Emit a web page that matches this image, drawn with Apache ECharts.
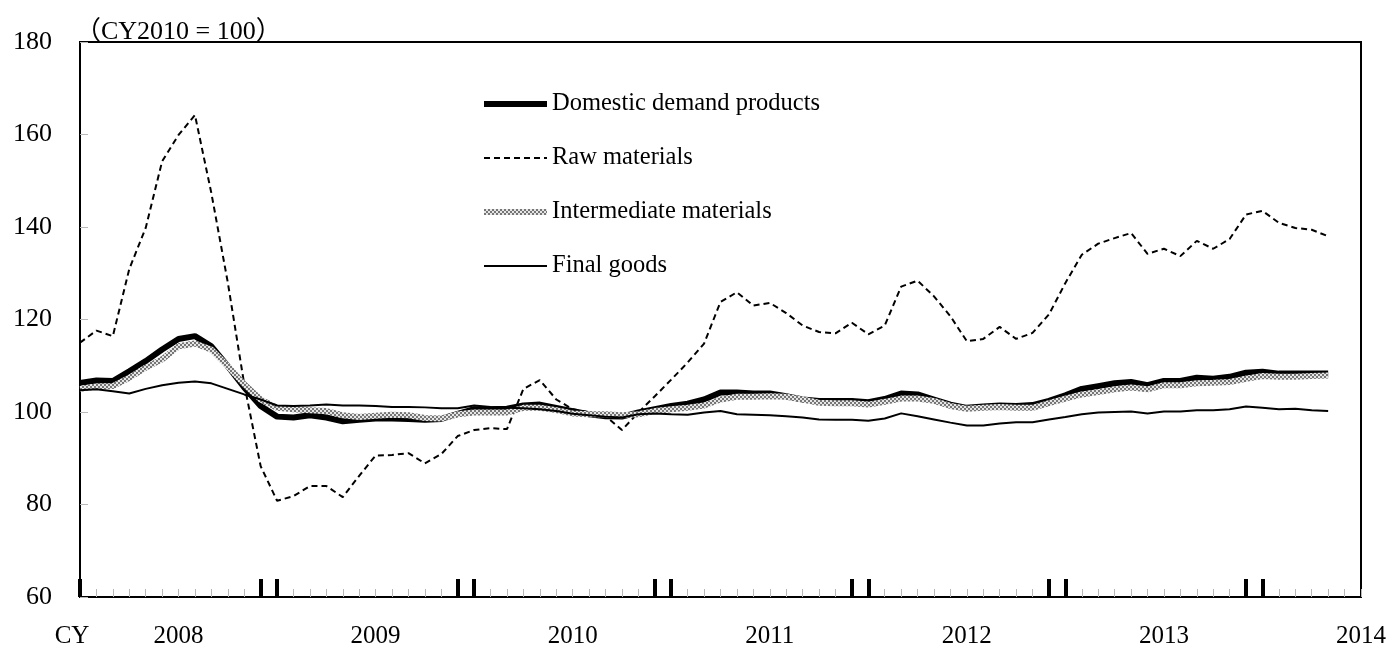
<!DOCTYPE html>
<html>
<head>
<meta charset="utf-8">
<script src="https://cdn.jsdelivr.net/npm/echarts@6/dist/echarts.min.js"></script>
<style>
  html, body { margin: 0; padding: 0; background: #fff; }
  #chart { width: 1392px; height: 649px; }
</style>
</head>
<body>
<div id="chart"></div>
<script>
// Monthly index, CY2010 = 100, Jan 2008 .. May 2014 (axis runs to Jul 2014)
const months = [];
for (let i = 0; i < 79; i++) {
  const y = 2008 + Math.floor(i / 12);
  const m = (i % 12) + 1;
  months.push(y + '-' + (m < 10 ? '0' + m : m));
}

const seriesNames = ['Domestic demand products', 'Raw materials', 'Intermediate materials', 'Final goods'];

const domestic = [
  106.3, 106.8, 106.7, 108.8, 111.0, 113.5, 115.8, 116.4, 114.2, 109.9, 105.3, 101.3,
  99.0, 98.8, 99.3, 98.8, 98.0, 98.3, 98.6, 98.6, 98.5, 98.3, 98.5, 99.6,
  100.6, 100.6, 100.7, 101.4, 101.6, 100.9, 100.2, 99.5, 99.1, 99.0, 99.9, 100.6,
  101.3, 101.8, 102.7, 104.2, 104.2, 104.0, 104.0, 103.4, 102.7, 102.4, 102.4, 102.4,
  102.1, 102.8, 104.0, 103.8, 102.7, 101.6, 100.9, 101.2, 101.4, 101.3, 101.5, 102.4,
  103.6, 105.0, 105.6, 106.2, 106.5, 105.8, 106.7, 106.7, 107.4, 107.2, 107.6, 108.5,
  108.7, 108.3, 108.3, 108.3, 108.3
];

const raw = [
  115.0, 117.6, 116.4, 130.9, 139.8, 154.2, 159.9, 164.2, 147.3, 128.0, 106.0, 88.3,
  80.8, 81.8, 84.0, 84.0, 81.6, 86.2, 90.6, 90.7, 91.1, 88.9, 90.9, 94.8,
  96.1, 96.5, 96.3, 105.0, 106.9, 102.7, 100.6, 99.9, 99.1, 96.1, 99.9, 103.4,
  107.0, 110.7, 114.8, 123.8, 125.9, 123.0, 123.6, 121.4, 118.7, 117.3, 117.0, 119.3,
  116.8, 118.7, 127.1, 128.4, 125.0, 120.7, 115.3, 115.8, 118.4, 115.8, 117.1, 121.1,
  127.9, 134.0, 136.4, 137.6, 138.7, 134.2, 135.3, 133.7, 137.0, 135.3, 137.4, 142.7,
  143.5, 140.9, 139.8, 139.4, 138.0
];

const intermediate = [
  105.0, 105.5, 105.6, 107.4, 109.6, 111.4, 114.2, 114.8, 113.5, 109.9, 106.0, 102.7,
  100.9, 100.6, 100.4, 100.2, 99.3, 98.9, 99.2, 99.4, 99.3, 98.7, 98.6, 99.5,
  99.9, 99.9, 99.9, 100.9, 100.9, 100.4, 99.7, 99.5, 99.5, 99.3, 99.5, 100.2,
  100.6, 100.9, 101.4, 102.7, 103.3, 103.3, 103.4, 103.3, 102.7, 102.0, 101.9, 101.9,
  101.6, 102.2, 102.9, 102.9, 102.4, 101.3, 100.7, 100.9, 101.1, 100.9, 100.9, 101.9,
  102.9, 103.8, 104.3, 104.9, 105.3, 104.9, 105.8, 105.8, 106.2, 106.3, 106.5, 107.2,
  107.8, 107.6, 107.6, 107.8, 107.9
];

const finalGoods = [
  104.7, 104.9, 104.5, 104.0, 105.0, 105.8, 106.3, 106.6, 106.2, 105.0, 103.8, 102.7,
  101.4, 101.3, 101.4, 101.6, 101.4, 101.4, 101.3, 101.1, 101.1, 101.0, 100.8, 100.8,
  101.4, 101.1, 100.9, 100.8, 100.6, 100.2, 99.6, 99.3, 99.0, 98.8, 99.5, 99.7,
  99.5, 99.4, 99.9, 100.2, 99.5, 99.4, 99.3, 99.1, 98.8, 98.4, 98.3, 98.3,
  98.1, 98.6, 99.7, 99.1, 98.4, 97.7, 97.1, 97.1, 97.5, 97.8, 97.8, 98.4,
  98.9, 99.5, 99.9, 100.0, 100.1, 99.7, 100.1, 100.1, 100.4, 100.4, 100.6, 101.2,
  100.9, 100.6, 100.7, 100.4, 100.2
];

const FONT = "'Liberation Serif', 'Times New Roman', 'Noto Sans CJK JP', serif";

// checker texture for the intermediate materials line
function makePattern() {
  const c = document.createElement('canvas');
  c.width = 4;
  c.height = 4;
  const ctx = c.getContext('2d');
  ctx.fillStyle = '#e6e6e6';
  ctx.fillRect(0, 0, 4, 4);
  ctx.fillStyle = '#767676';
  ctx.fillRect(0, 0, 2, 2);
  ctx.fillRect(2, 2, 2, 2);
  return c;
}

const chart = echarts.init(document.getElementById('chart'), null, { renderer: 'canvas' });

const option = {
  animation: false,
  backgroundColor: '#fff',
  title: {
    text: '（CY2010 = 100）',
    left: 70,
    top: 14,
    textStyle: { fontFamily: FONT, fontSize: 26, fontWeight: 'normal', color: '#000' }
  },
  grid: {
    left: 80, right: 31, top: 42, bottom: 51,
    show: true, borderColor: '#000', borderWidth: 2
  },
  legend: {
    orient: 'vertical',
    left: 481,
    top: 90,
    padding: 0,
    itemWidth: 63,
    itemHeight: 14,
    itemGap: 26,
    selectedMode: false,
    itemStyle: { opacity: 0 },
    lineStyle: { width: 'inherit' },
    textStyle: { fontFamily: FONT, fontSize: 24.5, color: '#000', lineHeight: 28 },
    data: seriesNames
  },
  xAxis: [
    {
      type: 'category',
      data: months,
      boundaryGap: false,
      axisLine: { lineStyle: { color: '#000', width: 2 } },
      axisTick: { inside: true, length: 8, interval: 0, lineStyle: { color: '#b8b8b8', width: 1 } },
      axisLabel: {
        interval: (idx) => idx === 0 || idx % 12 === 6,
        margin: 27,
        fontFamily: FONT,
        fontSize: 25,
        color: '#000',
        formatter: (val, idx) => (idx === 0 ? '{cy|CY}' : val.slice(0, 4)),
        rich: { cy: { fontFamily: FONT, fontSize: 25, color: '#000', padding: [0, 16, 0, 0] } }
      },
      splitLine: { show: false }
    },
    {
      // heavy marker ticks
      type: 'category',
      data: months,
      boundaryGap: false,
      position: 'bottom',
      axisLine: { show: false },
      axisLabel: { show: false },
      axisTick: {
        inside: true, length: 18,
        interval: (idx) => idx === 0 || (idx < 78 && (idx % 12 === 0 || idx % 12 === 11)),
        lineStyle: { color: '#000', width: 4 }
      },
      splitLine: { show: false }
    }
  ],
  yAxis: {
    type: 'value',
    min: 60,
    max: 180,
    interval: 20,
    axisLine: { show: true, lineStyle: { color: '#000', width: 2 } },
    axisTick: { show: true, inside: true, length: 8, lineStyle: { color: '#b8b8b8' } },
    axisLabel: { margin: 28, fontFamily: FONT, fontSize: 26, color: '#000' },
    splitLine: { show: false }
  },
  series: [
    {
      name: seriesNames[0], type: 'line', data: domestic, xAxisIndex: 0,
      symbol: 'none', lineStyle: { color: '#000', width: 6 }, itemStyle: { color: '#000' }
    },
    {
      name: seriesNames[1], type: 'line', data: raw, xAxisIndex: 0,
      symbol: 'none', lineStyle: { color: '#000', width: 2, type: [6, 4] }, itemStyle: { color: '#000' }
    },
    {
      name: seriesNames[2], type: 'line', data: intermediate, xAxisIndex: 0,
      symbol: 'none',
      lineStyle: { color: { image: makePattern(), repeat: 'repeat' }, width: 6 },
      itemStyle: { color: '#9a9a9a' }
    },
    {
      name: seriesNames[3], type: 'line', data: finalGoods, xAxisIndex: 0,
      symbol: 'none', lineStyle: { color: '#000', width: 2 }, itemStyle: { color: '#000' }
    }
  ]
};

chart.setOption(option);
</script>
</body>
</html>
